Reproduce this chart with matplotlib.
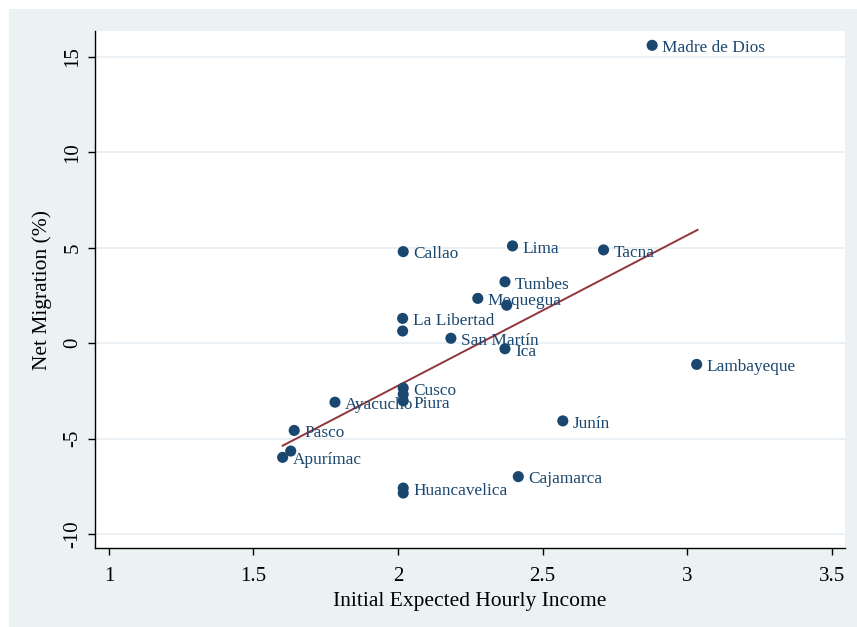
import matplotlib
matplotlib.use("Agg")
import matplotlib.pyplot as plt
from matplotlib.patches import Rectangle

# <====== data ======>
regions = ["Madre de Dios", "Lambayeque", "Tacna", "Lima", "Callao", "Tumbes",
           "Moquegua", "", "La Libertad", "", "San Martín", "Ica",
           "Cusco", "", "Piura", "Ayacucho", "Junín", "Pasco",
           "", "Apurímac", "Cajamarca", "Huancavelica", ""]
income = [2.879, 3.033, 2.711, 2.396, 2.018, 2.370,
          2.276, 2.376, 2.016, 2.016, 2.183, 2.370,
          2.018, 2.018, 2.018, 1.782, 2.570, 1.641,
          1.629, 1.601, 2.416, 2.018, 2.018]
migration = [15.61, -1.11, 4.89, 5.10, 4.80, 3.22,
             2.35, 1.99, 1.30, 0.64, 0.26, -0.29,
             -2.35, -2.68, -3.02, -3.09, -4.07, -4.57,
             -5.65, -5.98, -6.99, -7.59, -7.85]

# fitted line end points
fit_x = [1.601, 3.036]
fit_y = [-5.37, 5.94]

xticks = [1, 1.5, 2, 2.5, 3, 3.5]
yticks = [-10, -5, 0, 5, 10, 15]

navy = "#1a476f"
maroon = "#90353b"
bg = "#eaf2f3"

plt.rcParams["font.family"] = ["Liberation Serif", "DejaVu Serif"]

fig = plt.figure(figsize=(8.57, 6.27), dpi=100)
fig.patch.set_facecolor("white")
fig.patches.append(Rectangle((9 / 857, 0), 1, 1 - 9 / 627, transform=fig.transFigure,
                             facecolor=bg, edgecolor="none", zorder=-10))

ax = fig.add_axes([95 / 857, 1 - 548 / 627, 750 / 857, 517 / 627])
ax.set_facecolor("white")

ax.set_xlim(0.952, 3.546)
ax.set_ylim(-10.73, 16.36)

for t in yticks:
    ax.axhline(t, color="#e6eef1", lw=1.2, zorder=0)

ax.plot(fit_x, fit_y, color=maroon, lw=1.4, zorder=2)
ax.scatter(income, migration, s=64, color=navy, edgecolors="none", zorder=3)

for name, x, y in zip(regions, income, migration):
    if name:
        ax.annotate(name, (x, y), xytext=(7.3, -2), textcoords="offset points",
                    ha="left", va="center", fontsize=12.4, color=navy, zorder=4)

for side in ["top", "right"]:
    ax.spines[side].set_visible(False)
for side in ["left", "bottom"]:
    ax.spines[side].set_linewidth(1.0)

ax.set_xticks(xticks)
ax.set_xticklabels(["1", "1.5", "2", "2.5", "3", "3.5"], fontsize=15)
ax.set_yticks(yticks)
ax.set_yticklabels([str(t) for t in yticks], fontsize=15, rotation=90, va="center")
ax.tick_params(direction="out", length=5, width=1.0, pad=4)
ax.tick_params(axis="x", pad=9)

ax.set_xlabel("Initial Expected Hourly Income", fontsize=15.5, labelpad=4)
ax.set_ylabel("Net Migration (%)", fontsize=15.5, labelpad=8)

fig.savefig("out.png", dpi=100, facecolor=fig.get_facecolor())
